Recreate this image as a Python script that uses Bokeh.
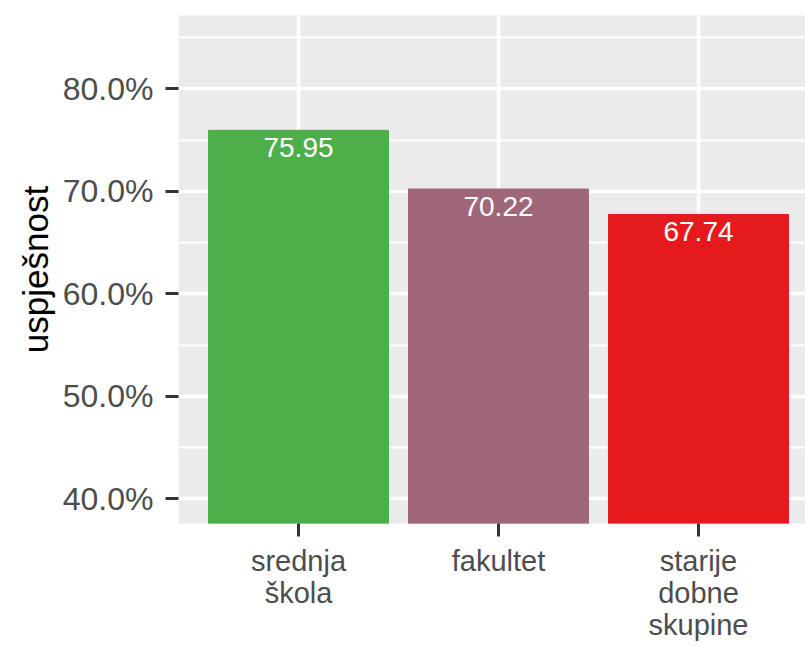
from bokeh.plotting import figure
from bokeh.models import ColumnDataSource, FixedTicker, NumeralTickFormatter, Range1d
from bokeh.core.properties import value
from bokeh.embed import file_html
from bokeh.resources import INLINE

categories = ["srednja\nškola", "fakultet", "starije\ndobne\nskupine"]
success = [75.95, 70.22, 67.74]
colors = ["#4DAF4A", "#A0677A", "#E41A1C"]
y_ticks = [0.4, 0.5, 0.6, 0.7, 0.8]
y_minor = [0.35, 0.45, 0.55, 0.65, 0.75, 0.85]

xs = list(range(1, len(categories) + 1))
src = ColumnDataSource(dict(
    x=xs,
    top=[v / 100 for v in success],
    color=colors,
    label=[f"{v:.2f}" for v in success],
))

p = figure(width=805, height=646, output_backend="svg", toolbar_location=None,
           x_range=Range1d(0.4, 3.535), y_range=Range1d(0.3759, 0.8715),
           min_border_left=178, min_border_right=0, min_border_top=15,
           min_border_bottom=123)
p.background_fill_color = "#EBEBEB"
p.border_fill_color = "white"
p.outline_line_color = None

p.vbar(x="x", top="top", bottom=0, width=0.9, color="color", source=src)
p.text(x="x", y="top", text="label", source=src, text_color="white",
       text_align="center", text_baseline="top", y_offset=8,
       text_font=value("Liberation Sans"), text_font_size="28px")

# axes
p.xaxis.ticker = FixedTicker(ticks=xs, minor_ticks=[])
p.xaxis.major_label_overrides = {x: c for x, c in zip(xs, categories)}
p.yaxis.ticker = FixedTicker(ticks=y_ticks, minor_ticks=y_minor)
p.yaxis.formatter = NumeralTickFormatter(format="0.0%")
p.yaxis.axis_label = "uspješnost"

for ax in (p.xaxis[0], p.yaxis[0]):
    ax.axis_line_color = None
    ax.major_tick_line_color = "#333333"
    ax.major_tick_line_width = 3
    ax.major_tick_out = 13
    ax.major_tick_in = 0
    ax.minor_tick_out = 0
    ax.minor_tick_in = 0
    ax.major_label_text_font = "Liberation Sans"
    ax.major_label_text_color = "#4D4D4D"
    ax.major_label_standoff = 12

p.xaxis.major_label_text_font_size = "29px"
p.yaxis.major_label_text_font_size = "32px"
p.xaxis.major_label_text_line_height = 1.0
p.xaxis.major_label_standoff = 8
p.yaxis.axis_label_text_font = "Liberation Sans"
p.yaxis.axis_label_text_font_size = "35px"
p.yaxis.axis_label_text_font_style = "normal"
p.yaxis.axis_label_text_color = "black"
p.yaxis.axis_label_standoff = 5

p.xgrid.ticker = FixedTicker(ticks=xs, minor_ticks=[])
p.xgrid.grid_line_color = "white"
p.xgrid.grid_line_width = 3.5
p.ygrid.grid_line_color = "white"
p.ygrid.grid_line_width = 3.5
p.ygrid.minor_grid_line_color = "white"
p.ygrid.minor_grid_line_width = 1.8

open("out.html", "w").write(file_html(p, INLINE))
